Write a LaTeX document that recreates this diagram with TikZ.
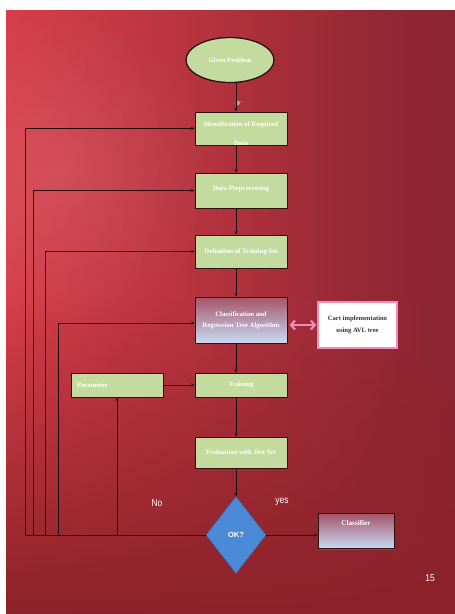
\documentclass[tikz,border=0pt]{standalone}
\usepackage{fontspec}
\setmainfont{Liberation Serif}
\newfontfamily\sansf{Liberation Sans}
\usetikzlibrary{shapes.geometric,arrows.meta,shadows,fadings}
\tikzfading[name=glowfade, inner color=transparent!0, outer color=transparent!100]
\definecolor{boxgreen}{HTML}{C4DBA0}
\definecolor{edgecol}{HTML}{2A1210}
\definecolor{mauve}{HTML}{A45468}
\definecolor{palepink}{HTML}{E8D8E4}
\definecolor{paleblue}{HTML}{C8DAF4}
\definecolor{pinkline}{HTML}{EE8DBC}
\definecolor{okblue}{HTML}{4A8AD6}
\definecolor{redlight}{HTML}{D63E4A}
\definecolor{reddark}{HTML}{8A2530}
\definecolor{redbottom}{HTML}{8C2229}
\definecolor{linecol}{HTML}{1E0B0A}
\tikzset{
  greenbox/.style={rectangle, draw=edgecol, line width=1pt, fill=boxgreen,
    text=white, align=center, inner sep=1pt,
    font=\bfseries\fontsize{6.7}{8.2}\selectfont,
    drop shadow={shadow xshift=1.3pt, shadow yshift=-1.3pt, opacity=0.45}},
  gradbox/.style={greenbox, fill=none, top color=mauve, middle color=palepink, bottom color=paleblue},
  cartbox/.style={rectangle, draw=pinkline, line width=1.4pt, fill=white,
    text=black!80, align=center, font=\bfseries\fontsize{6.6}{8.2}\selectfont},
  startell/.style={ellipse, draw=edgecol, line width=1.3pt, fill=boxgreen,
    text=white, font=\bfseries\fontsize{6.6}{8}\selectfont, inner sep=0pt},
  decision/.style={diamond, draw=okblue!80!black, line width=0.6pt, fill=okblue,
    text=white, font=\sansf\bfseries\fontsize{7.5}{9}\selectfont, inner sep=0pt},
  boxtext/.style={text=white, font=\bfseries\fontsize{6.7}{8.2}\selectfont, inner sep=0pt},
  arr/.style={draw=linecol, line width=0.75pt, -{Stealth[length=3.5pt,width=3pt]}},
  pinkarr/.style={draw=pinkline, line width=2.2pt,
    {Straight Barb[length=4pt,width=9pt]}-{Straight Barb[length=4pt,width=9pt]}},
  lbl/.style={text=white, font=\sansf\fontsize{10}{12}\selectfont, xscale=0.85, inner sep=0pt}
}
\begin{document}
\begin{tikzpicture}[x=1pt,y=-1pt]
\useasboundingbox (0,0) rectangle (455,614);
% background
\fill[white] (0,0) rectangle (455,614);
\begin{scope}
\clip (6,10) rectangle (455,614);
\shade[left color=redlight, right color=reddark] (6,10) rectangle (455,614);
\fill[redbottom, path fading=north] (6,300) rectangle (455,614);
\fill[reddark, opacity=0.35, path fading=west] (250,10) rectangle (455,300);
\fill[white, opacity=0.10, path fading=glowfade] (60,170) circle (160);
\end{scope}
% coordinates
\coordinate (cx) at (236,0);
\coordinate (xa) at (25,0);
\coordinate (xb) at (33,0);
\coordinate (xc) at (45,0);
\coordinate (xd) at (58,0);
% nodes
\node[startell, minimum width=88pt, minimum height=45pt] (gp) at (230,60) {Given Problem};
\node[boxtext, font=\bfseries\fontsize{6}{7}\selectfont] (fmark) at (239,104) {F};
\node[greenbox, minimum width=92pt, minimum height=33pt, text depth=8pt] (b1) at (241,128.5) {Identification of Required};
\node[boxtext] (b1d) at (241,143.5) {Data};
\node[greenbox, minimum width=92pt, minimum height=35pt, text depth=5pt] (b2) at (241,190.5) {Data-Preprocessing};
\node[greenbox, minimum width=92pt, minimum height=33pt] (b3) at (241,251.5) {Definition of Training Set};
\node[gradbox, minimum width=92pt, minimum height=46pt] (b4) at (241,320) {Classification and\\[3pt]Regression Tree Algorithm};
\node[cartbox, minimum width=79pt, minimum height=46pt] (cart) at (357.5,325) {Cart implementation\\[3pt]using AVL tree};
\node[greenbox, minimum width=92pt, minimum height=24pt] (b5) at (241,385) {Training};
\node[greenbox, minimum width=92pt, minimum height=24pt, align=left, text width=80pt] (param) at (117,385) {Parameter};
\node[greenbox, minimum width=92pt, minimum height=31pt] (b6) at (241,452.5) {Evaluation with Test Set};
\node[decision, minimum width=60pt, minimum height=77pt] (ok) at (236,535) {OK?};
\node[gradbox, minimum width=76pt, minimum height=35pt, font=\bfseries\fontsize{7.2}{8}\selectfont] (cls) at (356,531) {Classifier\\[8pt]\mbox{}};
\node[lbl] (no) at (157,503) {No};
\node[lbl] (yes) at (282,502) {yes};
\node[lbl] (pg) at (430,578) {15};
% main flow
\draw[arr] (gp.south -| cx) -- (b1.north -| cx);
\draw[arr] (b1.south -| cx) -- (b2.north -| cx);
\draw[arr] (b2.south -| cx) -- (b3.north -| cx);
\draw[arr] (b3.south -| cx) -- (b4.north -| cx);
\draw[arr] (b4.south -| cx) -- (b5.north -| cx);
\draw[arr] (b5.south -| cx) -- (b6.north -| cx);
\draw[arr] (b6.south -| cx) -- (ok.north);
\draw[arr] (param.east) -- (b5.west);
\draw[arr] (ok.east) -- (ok.east -| cls.west);
\draw[pinkarr, shorten <=2pt, shorten >=1pt] (b4.east |- cart.west) -- (cart.west);
% feedback
\draw[arr] (ok.west) -- (ok.west -| xa) |- (b1.west);
\draw[arr] (ok.west -| xb) |- (b2.west);
\draw[arr] (ok.west -| xc) |- (b3.west);
\draw[arr] (ok.west -| xd) |- ([yshift=-3pt]b4.west);
\draw[arr] (ok.west -| param.south) -- (param.south);
\end{tikzpicture}
\end{document}
